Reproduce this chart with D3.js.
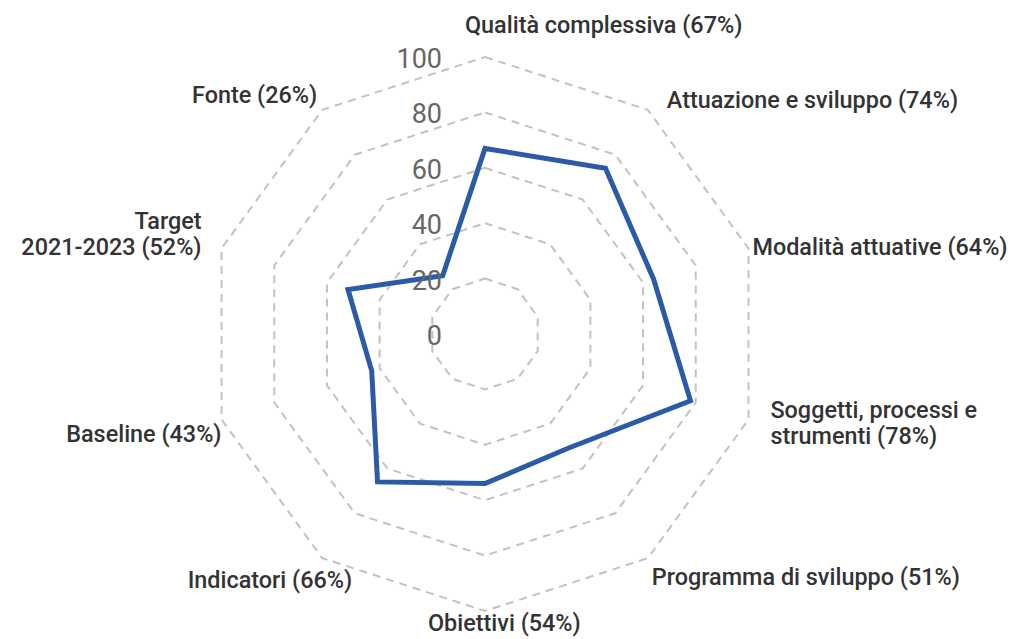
<!DOCTYPE html>
<html>
<head>
<meta charset="utf-8">
<script src="https://cdn.jsdelivr.net/npm/d3@7"></script>
<style>
  html, body { margin: 0; padding: 0; background: #fff; }
  svg { display: block; }
</style>
</head>
<body>
<svg id="chart" width="1013" height="639"></svg>
<script>
// ---- data ----
const categories = [
  "Qualità complessiva",
  "Attuazione e sviluppo",
  "Modalità attuative",
  "Soggetti, processi e\nstrumenti",
  "Programma di sviluppo",
  "Obiettivi",
  "Indicatori",
  "Baseline",
  "Target\n2021-2023",
  "Fonte"
];
const values = [67, 74, 64, 78, 51, 54, 66, 43, 52, 26];
const tickValues = [0, 20, 40, 60, 80, 100];
const tickLabels = ["0", "20", "40", "60", "80", "100"];

// ---- layout / style ----
const cx = 485, cy = 334, R = 277;
const labelLayout = [
  { anchor: "start", dx: -20, dy: -32 },
  { anchor: "start", dx: 19,  dy: -10 },
  { anchor: "start", dx: 4,   dy: -1 },
  { anchor: "start", dx: 22,  dy: -10 },
  { anchor: "start", dx: 4,   dy: 19 },
  { anchor: "start", dx: -57, dy: 12 },
  { anchor: "end",   dx: 30,  dy: 22 },
  { anchor: "end",   dx: 0,   dy: 14 },
  { anchor: "end",   dx: -20, dy: -27 },
  { anchor: "end",   dx: -5,  dy: -15 }
];
const lineHeight = 26;

const svg = d3.select("#chart");
const g = svg.append("g").attr("transform", `translate(${cx},${cy})`);

const n = categories.length;
const angle = d3.scaleLinear().domain([0, n]).range([0, 2 * Math.PI]);
const r = d3.scaleLinear().domain([0, 100]).range([0, R]);

const radial = d3.lineRadial()
  .angle((d, i) => angle(i))
  .radius(d => r(d))
  .curve(d3.curveLinearClosed);

// grid rings
g.selectAll("path.ring")
  .data(tickValues.filter(t => t > 0))
  .join("path")
  .attr("class", "ring")
  .attr("d", t => radial(d3.range(n).map(() => t)))
  .attr("fill", "none")
  .attr("stroke", "#c2c2c2")
  .attr("stroke-width", 2)
  .attr("stroke-dasharray", "8,6");

// data polygon
g.append("path")
  .attr("d", radial(values))
  .attr("fill", "none")
  .attr("stroke", "#2b5ba8")
  .attr("stroke-width", 5)
  .attr("stroke-linejoin", "miter");

// tick labels
g.selectAll("text.tick")
  .data(tickValues)
  .join("text")
  .attr("class", "tick")
  .attr("x", -43)
  .attr("y", t => -r(t) + 2)
  .attr("text-anchor", "end")
  .attr("dominant-baseline", "central")
  .attr("font-family", "Roboto, 'Open Sans', sans-serif")
  .attr("font-size", 27)
  .attr("fill", "#666")
  .text((t, i) => tickLabels[i]);

// axis labels
g.selectAll("text.axis-label")
  .data(categories)
  .join("text")
  .attr("class", "axis-label")
  .attr("font-family", "Roboto, 'Open Sans', sans-serif")
  .attr("font-weight", 500)
  .attr("font-size", 23.4)
  .attr("fill", "#333")
  .attr("dominant-baseline", "central")
  .attr("text-anchor", (d, i) => labelLayout[i].anchor)
  .each(function(d, i) {
    const a = angle(i);
    const x = Math.sin(a) * r(100) + labelLayout[i].dx;
    const y = -Math.cos(a) * r(100) + labelLayout[i].dy;
    const lines = (d + " (" + values[i] + "%)").split("\n");
    const t = d3.select(this);
    lines.forEach((ln, k) => {
      t.append("tspan")
        .attr("x", x)
        .attr("y", y + k * lineHeight)
        .text(ln);
    });
  });
</script>
</body>
</html>
